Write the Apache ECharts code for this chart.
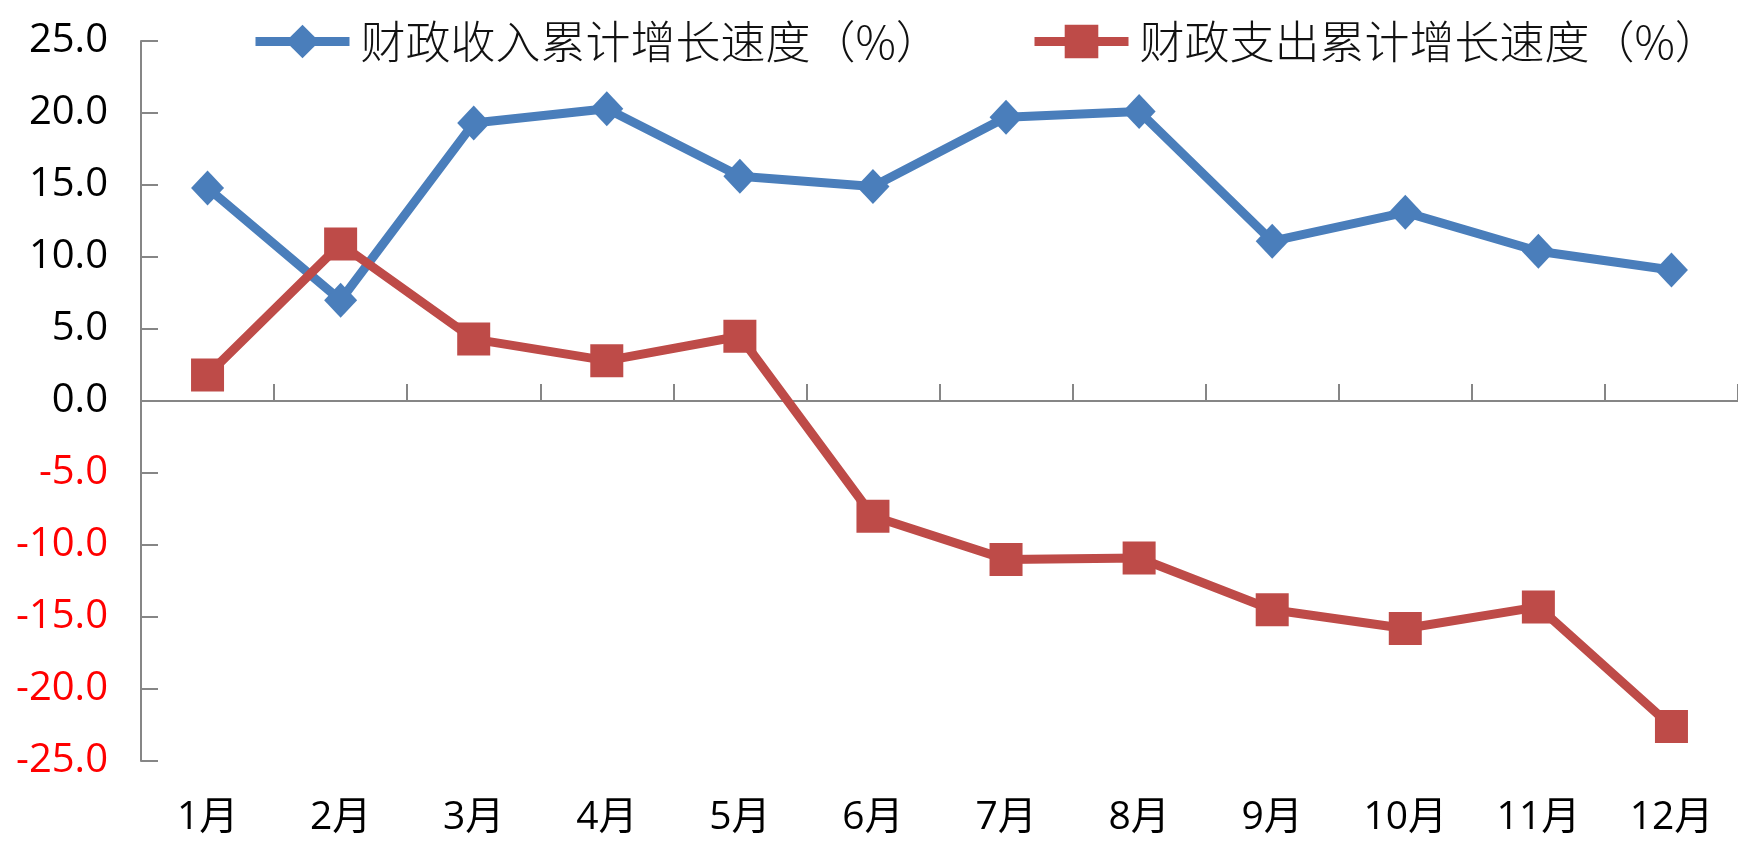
<!DOCTYPE html>
<html>
<head>
<meta charset="utf-8">
<script src="https://cdn.jsdelivr.net/npm/echarts@6/dist/echarts.min.js"></script>
<style>html,body{margin:0;padding:0;background:#fff}#c{width:1738px;height:850px}</style>
</head>
<body>
<div id="c"></div>
<script>
const categories = ['1月','2月','3月','4月','5月','6月','7月','8月','9月','10月','11月','12月'];
const seriesNames = ['财政收入累计增长速度（%）','财政支出累计增长速度（%）'];
const revenueGrowth = [14.8, 7.0, 19.3, 20.3, 15.6, 14.9, 19.7, 20.1, 11.1, 13.1, 10.4, 9.1];
const expenditureGrowth = [1.8, 10.9, 4.3, 2.8, 4.5, -8.0, -11.0, -10.9, -14.5, -15.8, -14.3, -22.6];

const numFont = 'Open Sans, Lato, sans-serif';
const cjkFont = 'Noto Sans CJK SC, sans-serif';
const axisGray = '#868686';

function legendAt(left, name) {
  return {
    left: left, top: 14, width: 800,
    itemWidth: 94, itemHeight: 42,
    lineStyle: {width: 9},
    textStyle: {fontFamily: cjkFont, fontSize: 45, fontWeight: 300, color: '#111', padding: [0,0,0,6]},
    data: [name]
  };
}

const chart = echarts.init(document.getElementById('c'));
chart.setOption({
  animation: false,
  backgroundColor: '#fff',
  grid: {left: 141, right: 0, top: 41, bottom: 89, containLabel: false},
  legend: [legendAt(246, seriesNames[0]), legendAt(1025, seriesNames[1])],
  xAxis: [
    {
      type: 'category', data: categories, boundaryGap: true,
      axisLine: {show: false, onZero: false},
      axisTick: {show: false},
      axisLabel: {fontFamily: numFont + ',' + cjkFont, fontSize: 39, color: '#000', margin: 37}
    },
    {
      type: 'category', data: categories, boundaryGap: true, position: 'bottom',
      axisLine: {show: true, onZero: true, lineStyle: {color: axisGray, width: 2}},
      axisTick: {show: true, inside: true, length: 17, lineStyle: {color: axisGray, width: 2}},
      axisLabel: {show: false}
    }
  ],
  yAxis: {
    type: 'value', min: -25, max: 25, interval: 5,
    axisLine: {show: true, lineStyle: {color: axisGray, width: 2}},
    axisTick: {show: true, inside: true, length: 17, lineStyle: {color: axisGray, width: 2}},
    splitLine: {show: false},
    axisLabel: {
      fontFamily: numFont, fontSize: 40, margin: 33,
      formatter: v => v.toFixed(1),
      color: v => (Number(v) < 0 ? '#FF0000' : '#000')
    }
  },
  series: [
    {
      name: seriesNames[0], type: 'line', data: revenueGrowth, xAxisIndex: 0,
      symbol: 'diamond', symbolSize: [33, 35],
      lineStyle: {color: '#4A7EBB', width: 9},
      itemStyle: {color: '#4A7EBB'}
    },
    {
      name: seriesNames[1], type: 'line', data: expenditureGrowth, xAxisIndex: 0,
      symbol: 'rect', symbolSize: 33,
      lineStyle: {color: '#BE4B48', width: 9},
      itemStyle: {color: '#BE4B48'}
    }
  ]
});
</script>
</body>
</html>
